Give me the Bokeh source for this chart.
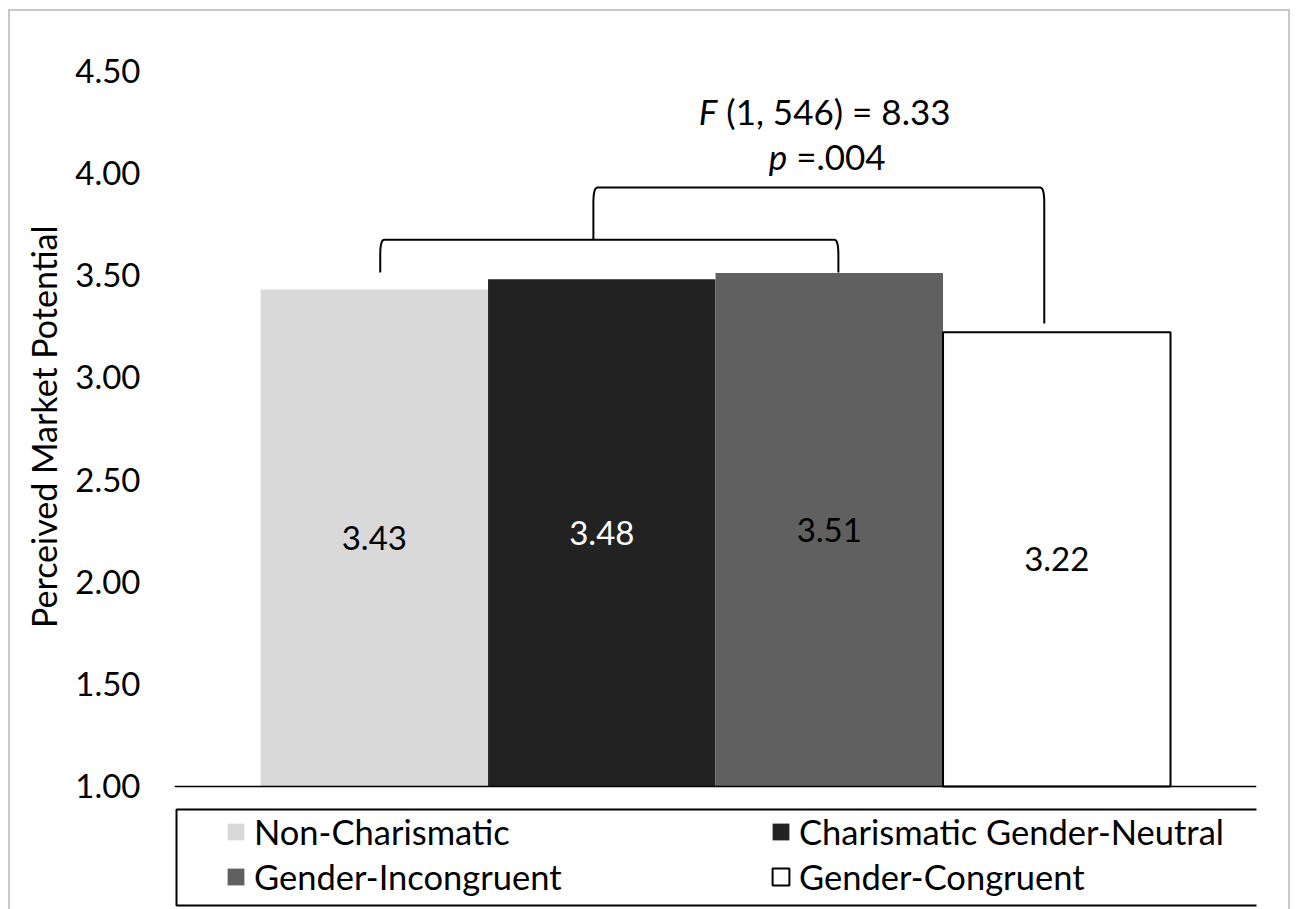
import numpy as np
from bokeh.plotting import figure
from bokeh.models import (ColumnDataSource, Range1d, FixedTicker, NumeralTickFormatter,
                          Legend, LegendItem, LinearAxis, Span, BoxAnnotation, Title)
from bokeh.core.properties import value
from bokeh.embed import file_html
from bokeh.resources import INLINE

# --- data -------------------------------------------------------------
conditions = ["Non-Charismatic", "Charismatic Gender-Neutral",
              "Gender-Incongruent", "Gender-Congruent"]
means = [3.43, 3.48, 3.51, 3.22]
bar_colors = ["#d9d9d9", "#222222", "#606060", "#ffffff"]
label_colors = ["#000000", "#ffffff", "#000000", "#000000"]
y_ticks = [1.0, 1.5, 2.0, 2.5, 3.0, 3.5, 4.0, 4.5]
y_title = "Perceived Market Potential"
stat_line1 = ("F", "\u00a0(1, 546) = 8.33")
stat_line2 = ("p", "\u00a0=.004")

FONT = "Lato"
BASE = 1.0
PX_PER_UNIT = 204.57    # vertical scale of the value axis
PX_PER_BAR = 227.5      # horizontal scale (one bar per unit)
BELOW_PX = 127          # room under the baseline for the legend

xs = list(range(len(conditions)))
src = ColumnDataSource(dict(
    x=xs,
    top=means,
    fill=bar_colors,
    line=["#000000" if c == "#ffffff" else c for c in bar_colors],
    lw=[2 if c == "#ffffff" else 0 for c in bar_colors],
    lab=[f"{m:.2f}" for m in means],
    lab_y=[(BASE + m) / 2 for m in means],
    lab_col=label_colors,
))

p = figure(width=1282, height=902, output_backend="svg", toolbar_location=None,
           x_range=Range1d(-0.874 - 1.0 / PX_PER_BAR, 3.878),
           y_range=Range1d(BASE - BELOW_PX / PX_PER_UNIT, 4.5),
           min_border_left=164, min_border_right=36, min_border_top=59,
           min_border_bottom=0, x_axis_type=None, y_axis_type=None)
p.margin = (9, 0, 0, 8)
p.styles = {"border": "2px solid #c8c8c8"}
p.outline_line_color = None
p.background_fill_color = "white"
p.border_fill_color = "white"
p.grid.visible = False

# y axis: labels only
yax = LinearAxis(ticker=FixedTicker(ticks=y_ticks),
                 formatter=NumeralTickFormatter(format="0.00"))
yax.axis_line_color = None
yax.major_tick_line_color = None
yax.minor_tick_line_color = None
yax.major_tick_out = 0
yax.major_label_standoff = 34
yax.major_label_text_font = FONT
yax.major_label_text_font_size = "33px"
yax.major_label_text_color = "#000000"
p.add_layout(yax, "left")

# axis title, ending at the top of the value scale region
p.add_layout(Title(text=y_title, align="right", offset=155, standoff=18,
                   text_font=FONT, text_font_size="34px", text_font_style="normal",
                   text_color="#000000"), "left")

# category baseline
p.add_layout(Span(location=BASE, dimension="width", line_color="#000000", line_width=1.5))

bars = p.vbar(x="x", top="top", bottom=BASE, width=1.0, source=src,
              fill_color="fill", line_color="line", line_width="lw")

p.text(x="x", y="lab_y", text="lab", source=src, text_align="center",
       text_baseline="middle", text_font=value(FONT), text_font_size="33px",
       text_color="lab_col")

# comparison brackets
def bracket(x0, x1, y_top, y0_bot, y1_bot, rx=0.018, ry=0.075, n=10):
    t = np.linspace(0, 1, n)
    lx = (1 - t) ** 2 * x0 + 2 * (1 - t) * t * x0 + t ** 2 * (x0 + rx)
    ly = (1 - t) ** 2 * (y_top - ry) + 2 * (1 - t) * t * y_top + t ** 2 * y_top
    rxs = (1 - t) ** 2 * (x1 - rx) + 2 * (1 - t) * t * x1 + t ** 2 * x1
    rys = (1 - t) ** 2 * y_top + 2 * (1 - t) * t * y_top + t ** 2 * (y_top - ry)
    xx = [x0] + list(lx) + list(rxs) + [x1]
    yy = [y0_bot] + list(ly) + list(rys) + [y1_bot]
    return xx, yy

inner = bracket(0.026, 2.04, 3.673, 3.512, 3.512)
outer = bracket(0.963, 2.945, 3.928, 3.673, 3.263)
p.multi_line(xs=[inner[0], outer[0]], ys=[inner[1], outer[1]],
             line_color="#000000", line_width=2)

# test statistic
for (it, rest), ax, ay in [(stat_line1, 1.508, 4.30), (stat_line2, 1.815, 4.08)]:
    p.text(x=[ax], y=[ay], text=[it], text_align="right", text_baseline="middle",
           text_font=value(FONT), text_font_size="35px", text_font_style="italic",
           text_color="#000000")
    p.text(x=[ax], y=[ay], text=[rest], text_align="left", text_baseline="middle",
           text_font=value(FONT), text_font_size="35px", text_color="#000000")

# legend: two columns inside one framed box under the baseline
def legend_column(idx, vx):
    return Legend(items=[LegendItem(label=conditions[i], renderers=[bars], index=i)
                         for i in idx],
                  orientation="vertical", location=(vx, 15), margin=0, padding=0,
                  glyph_width=21, glyph_height=21, label_standoff=8,
                  label_height=43, spacing=2,
                  label_text_font=FONT, label_text_font_size="34.5px",
                  label_text_color="#000000",
                  border_line_alpha=0, background_fill_alpha=0)

p.add_layout(legend_column([0, 2], 51), "center")
p.add_layout(legend_column([1, 3], 596), "center")
p.add_layout(BoxAnnotation(left=164, right=1249, top=796, bottom=892,
                           left_units="canvas", right_units="canvas",
                           top_units="canvas", bottom_units="canvas",
                           fill_alpha=0, line_color="#000000", line_alpha=1.0,
                           line_width=2))

open("out.html", "w").write(file_html(p, INLINE))
